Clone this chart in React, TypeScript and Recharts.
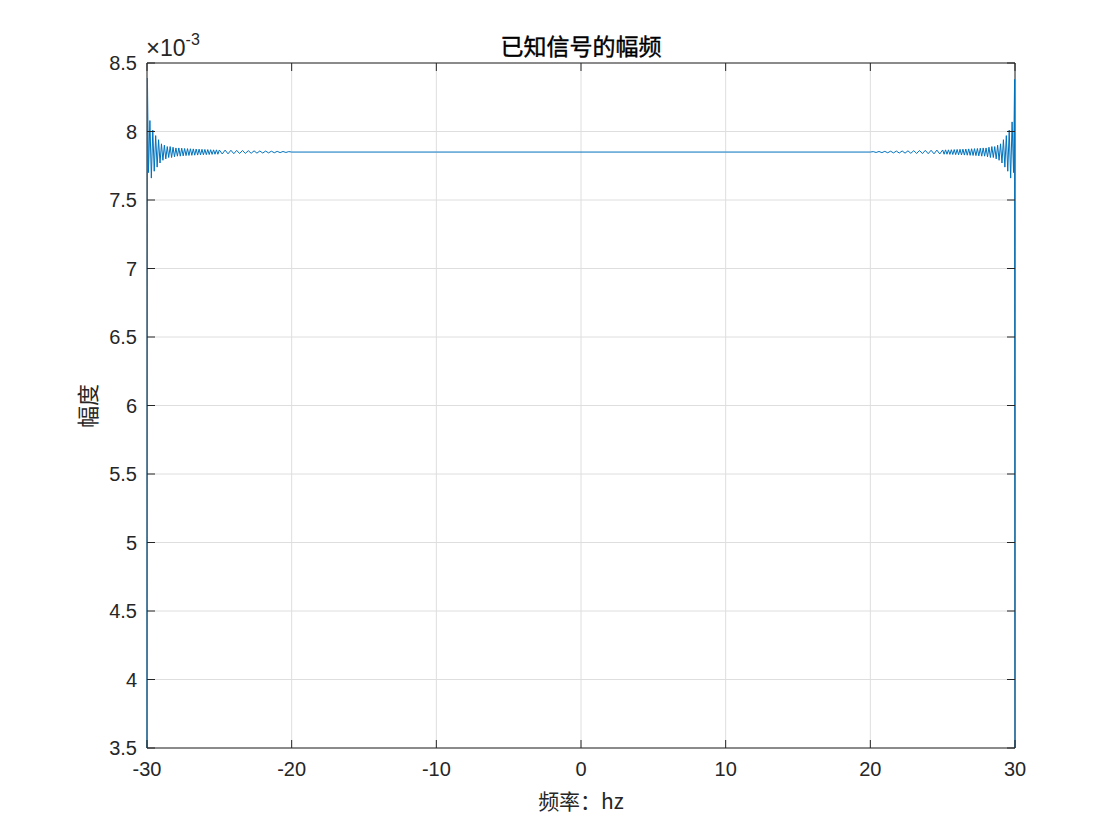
import React from "react";
import { LineChart, Line, XAxis, YAxis, CartesianGrid, ReferenceArea } from "recharts";

// Frequency (Hz) and magnitude (×10^-3)
const freqLeft = [
  -30, -29.97, -29.9, -29.8, -29.7, -29.6, -29.5, -29.4, -29.3, -29.2, -29.1,
  -29.0, -28.9, -28.8, -28.7, -28.6, -28.5, -28.4, -28.3, -28.2, -28.1,
  -28.0, -27.9, -27.8, -27.7, -27.6, -27.5, -27.4, -27.3, -27.2, -27.1,
  -27.0, -26.9, -26.8, -26.7, -26.6, -26.5, -26.4, -26.3, -26.2, -26.1,
  -26.0, -25.9, -25.8, -25.7, -25.6, -25.5, -25.4, -25.3, -25.2, -25.1,
  -25.0, -24.8, -24.6, -24.4, -24.2, -24.0, -23.8, -23.6, -23.4, -23.2,
  -23.0, -22.8, -22.6, -22.4, -22.2, -22.0, -21.8, -21.6, -21.4, -21.2,
  -21.0, -20.8, -20.6, -20.4, -20.2, -20.0,
];
const ampLeft = [
  3.4, 8.39, 7.7, 8.08, 7.66, 8.01, 7.71, 7.97, 7.74, 7.94, 7.77,
  7.91, 7.79, 7.9, 7.8, 7.89, 7.81, 7.89, 7.81, 7.885, 7.815,
  7.88, 7.82, 7.88, 7.82, 7.878, 7.822, 7.876, 7.824, 7.875, 7.825,
  7.874, 7.826, 7.873, 7.827, 7.872, 7.828, 7.871, 7.829, 7.87, 7.83,
  7.869, 7.831, 7.868, 7.832, 7.867, 7.833, 7.866, 7.834, 7.866, 7.834,
  7.865, 7.836, 7.864, 7.837, 7.863, 7.838, 7.862, 7.839, 7.861, 7.84,
  7.86, 7.841, 7.859, 7.842, 7.858, 7.843, 7.857, 7.844, 7.856, 7.845,
  7.855, 7.846, 7.854, 7.847, 7.853, 7.85,
];
const freqMid = [-10, 0, 10];
const ampMid = [7.85, 7.85, 7.85];
// right edge, listed from the edge inward
const freqRight = [
  30, 29.97, 29.9, 29.8, 29.7, 29.6, 29.5, 29.4, 29.3, 29.2, 29.1,
  29.0, 28.9, 28.8, 28.7, 28.6, 28.5, 28.4, 28.3, 28.2, 28.1,
  28.0, 27.9, 27.8, 27.7, 27.6, 27.5, 27.4, 27.3, 27.2, 27.1,
  27.0, 26.9, 26.8, 26.7, 26.6, 26.5, 26.4, 26.3, 26.2, 26.1,
  26.0, 25.9, 25.8, 25.7, 25.6, 25.5, 25.4, 25.3, 25.2, 25.1,
  25.0, 24.8, 24.6, 24.4, 24.2, 24.0, 23.8, 23.6, 23.4, 23.2,
  23.0, 22.8, 22.6, 22.4, 22.2, 22.0, 21.8, 21.6, 21.4, 21.2,
  21.0, 20.8, 20.6, 20.4, 20.2, 20.0,
];
const ampRight = [
  3.4, 8.38, 7.7, 8.07, 7.66, 8.01, 7.71, 7.97, 7.74, 7.94, 7.77,
  7.91, 7.79, 7.9, 7.8, 7.89, 7.81, 7.89, 7.81, 7.885, 7.815,
  7.88, 7.82, 7.88, 7.82, 7.878, 7.822, 7.876, 7.824, 7.875, 7.825,
  7.874, 7.826, 7.873, 7.827, 7.872, 7.828, 7.871, 7.829, 7.87, 7.83,
  7.869, 7.831, 7.868, 7.832, 7.867, 7.833, 7.866, 7.834, 7.866, 7.834,
  7.865, 7.836, 7.864, 7.837, 7.863, 7.838, 7.862, 7.839, 7.861, 7.84,
  7.86, 7.841, 7.859, 7.842, 7.858, 7.843, 7.857, 7.844, 7.856, 7.845,
  7.855, 7.846, 7.854, 7.847, 7.853, 7.85,
];
const xTicks = [-30, -20, -10, 0, 10, 20, 30];
const yTicks = [3.5, 4, 4.5, 5, 5.5, 6, 6.5, 7, 7.5, 8, 8.5];

const data = [
  ...freqLeft.map((f, i) => ({ f, a: ampLeft[i] })),
  ...freqMid.map((f, i) => ({ f, a: ampMid[i] })),
  ...freqRight.map((f, i) => ({ f, a: ampRight[i] })).reverse(),
];

const PL = 147, PR = 1015, PT = 63, PB = 748;
const NUM_FONT = '"Liberation Sans", Arial, Helvetica, sans-serif';
const CJK_FONT = '"Noto Sans CJK SC", "Noto Sans", sans-serif';
const INK = "#262626";

const XTick = (props: any) => {
  const x = props.x;
  return (
    <g>
      <line x1={x} y1={PB} x2={x} y2={PB - 8} stroke={INK} strokeWidth={1} />
      <line x1={x} y1={PT} x2={x} y2={PT + 8} stroke={INK} strokeWidth={1} />
      <text x={x} y={776} textAnchor="middle" fontFamily={NUM_FONT} fontSize={20} fill={INK}>
        {String(props.payload.value)}
      </text>
    </g>
  );
};

const YTick = (props: any) => {
  const y = props.y;
  return (
    <g>
      <line x1={PL} y1={y} x2={PL + 8} y2={y} stroke={INK} strokeWidth={1} />
      <line x1={PR} y1={y} x2={PR - 8} y2={y} stroke={INK} strokeWidth={1} />
      <text x={137} y={y + 7} textAnchor="end" fontFamily={NUM_FONT} fontSize={20} fill={INK}>
        {String(props.payload.value)}
      </text>
    </g>
  );
};

export default function App() {
  return (
    <div style={{ position: "absolute", left: 0, top: 0, width: 1120, height: 840, background: "#fff" }}>
      <LineChart
        width={1120}
        height={840}
        data={data}
        margin={{ top: PT, right: 1120 - PR, bottom: 62, left: 87 }}
      >
        <CartesianGrid stroke="#dedede" strokeWidth={1} />
        <XAxis
          dataKey="f"
          type="number"
          domain={[-30, 30]}
          ticks={xTicks}
          height={30}
          tickLine={false}
          axisLine={false}
          tick={XTick}
          interval={0}
        />
        <YAxis
          type="number"
          domain={[3.5, 8.5]}
          ticks={yTicks}
          width={60}
          allowDataOverflow
          tickLine={false}
          axisLine={false}
          tick={YTick}
          interval={0}
        />
        <Line
          dataKey="a"
          type="linear"
          stroke="#0072BD"
          strokeWidth={1}
          dot={false}
          activeDot={false}
          isAnimationActive={false}
        />
        <ReferenceArea x1={-30} x2={30} y1={3.5} y2={8.5} fill="none" stroke={INK} strokeWidth={1} fillOpacity={0} />
      </LineChart>
      <div
        style={{
          position: "absolute", left: 0, width: 1162, top: 31, textAlign: "center",
          fontFamily: CJK_FONT, fontSize: 23, color: "#000", lineHeight: "28px",
          WebkitTextStroke: "0.4px #000",
        }}
      >
        已知信号的幅频
      </div>
      <div
        style={{
          position: "absolute", left: 0, width: 1162, top: 786, textAlign: "center",
          fontFamily: CJK_FONT, fontSize: 21, color: INK, lineHeight: "28px",
        }}
      >
        频率：hz
      </div>
      <div
        style={{
          position: "absolute", left: 86, top: 406, width: 0, height: 0,
        }}
      >
        <div
          style={{
            position: "absolute", left: -50, top: -14, width: 100, textAlign: "center",
            transform: "rotate(-90deg)", fontFamily: CJK_FONT, fontSize: 22, color: INK, lineHeight: "28px",
          }}
        >
          幅度
        </div>
      </div>
      <div
        style={{
          position: "absolute", left: 146, top: 36, fontFamily: NUM_FONT, fontSize: 23, color: INK,
          lineHeight: "23px", whiteSpace: "nowrap",
        }}
      >
        <span style={{ fontSize: 24 }}>×</span>10<span style={{ fontSize: 16, position: "relative", top: -11 }}>-3</span>
      </div>
    </div>
  );
}
